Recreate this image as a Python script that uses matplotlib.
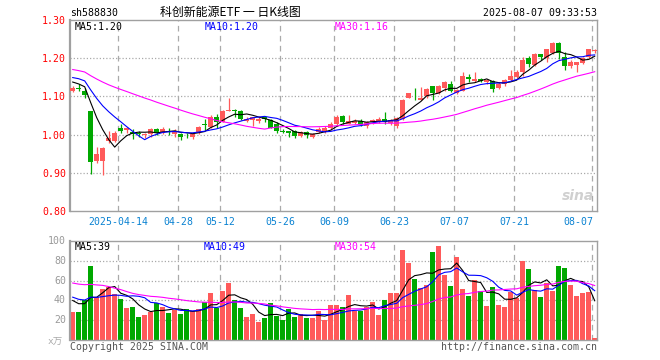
import numpy as np
import pandas as pd
import matplotlib
matplotlib.use("Agg")
import matplotlib.pyplot as plt
from matplotlib.transforms import blended_transform_factory

# ---------------- data ----------------
symbol = "sh588830"
title = "科创新能源ETF 一 日K线图"
timestamp = "2025-08-07 09:33:53"
holidays = ["2025-04-04", "2025-05-01", "2025-05-02", "2025-05-05", "2025-06-02"]
dates = [d for d in pd.bdate_range("2025-04-01", "2025-08-07").strftime("%Y-%m-%d") if d not in holidays]

opens = [1.114, 1.122, 1.114, 1.062, 0.930, 0.930, 0.983, 0.983, 1.016, 1.011,
         1.007, 1.004, 0.998, 1.001, 1.014, 1.005, 1.010, 1.001, 1.002, 0.999,
         0.995, 1.003, 1.028, 1.021, 1.045, 1.033, 1.063, 1.064, 1.062, 1.036,
         1.039, 1.036, 1.045, 1.039, 1.027, 1.009, 1.010, 1.009, 0.996, 1.008,
         0.994, 1.007, 1.010, 1.017, 1.027, 1.049, 1.029, 1.030, 1.036, 1.023,
         1.032, 1.033, 1.042, 1.030, 1.023, 1.042, 1.097, 1.096, 1.091, 1.100,
         1.126, 1.109, 1.121, 1.132, 1.109, 1.115, 1.152, 1.140, 1.146, 1.137,
         1.141, 1.122, 1.132, 1.143, 1.152, 1.163, 1.200, 1.181, 1.211, 1.200,
         1.214, 1.240, 1.203, 1.179, 1.183, 1.188, 1.203, 1.219]
highs = [1.126, 1.133, 1.122, 1.063, 0.968, 0.968, 1.009, 1.010, 1.027, 1.020,
         1.014, 1.010, 1.004, 1.018, 1.016, 1.020, 1.016, 1.014, 1.005, 1.005,
         1.003, 1.023, 1.042, 1.051, 1.054, 1.065, 1.095, 1.067, 1.064, 1.047,
         1.045, 1.047, 1.047, 1.042, 1.033, 1.014, 1.010, 1.012, 1.010, 1.010,
         1.005, 1.020, 1.023, 1.032, 1.051, 1.051, 1.051, 1.040, 1.040, 1.036,
         1.040, 1.045, 1.058, 1.042, 1.045, 1.093, 1.110, 1.121, 1.124, 1.121,
         1.128, 1.130, 1.141, 1.141, 1.119, 1.163, 1.159, 1.165, 1.148, 1.146,
         1.144, 1.137, 1.146, 1.168, 1.168, 1.203, 1.205, 1.214, 1.211, 1.225,
         1.242, 1.242, 1.216, 1.194, 1.191, 1.202, 1.225, 1.225]
lows = [1.111, 1.114, 1.096, 0.896, 0.926, 0.895, 0.979, 0.981, 1.003, 1.005,
        0.988, 0.995, 0.990, 0.995, 1.000, 1.001, 1.000, 0.995, 0.986, 0.991,
        0.988, 1.001, 1.012, 1.018, 1.018, 1.032, 1.062, 1.047, 1.038, 1.032,
        1.023, 1.030, 1.034, 1.016, 1.003, 1.003, 0.995, 0.990, 0.995, 0.992,
        0.992, 1.004, 1.005, 1.012, 1.023, 1.027, 1.027, 1.027, 1.023, 1.018,
        1.029, 1.030, 1.027, 1.025, 1.016, 1.039, 1.095, 1.090, 1.091, 1.097,
        1.090, 1.106, 1.115, 1.111, 1.106, 1.113, 1.139, 1.137, 1.137, 1.132,
        1.112, 1.119, 1.126, 1.141, 1.147, 1.154, 1.176, 1.179, 1.194, 1.189,
        1.211, 1.198, 1.168, 1.174, 1.165, 1.185, 1.201, 1.214]
closes = [1.123, 1.120, 1.103, 0.928, 0.948, 0.966, 0.991, 1.003, 1.010, 1.016,
          1.001, 1.002, 1.002, 1.014, 1.003, 1.014, 1.008, 1.010, 0.995, 0.998,
          1.001, 1.021, 1.025, 1.047, 1.032, 1.062, 1.065, 1.061, 1.040, 1.042,
          1.045, 1.042, 1.041, 1.018, 1.010, 1.008, 1.003, 0.996, 1.008, 0.998,
          1.001, 1.014, 1.016, 1.029, 1.047, 1.032, 1.036, 1.036, 1.025, 1.033,
          1.039, 1.042, 1.032, 1.039, 1.043, 1.091, 1.108, 1.095, 1.095, 1.119,
          1.109, 1.126, 1.137, 1.115, 1.118, 1.154, 1.146, 1.146, 1.141, 1.142,
          1.119, 1.132, 1.143, 1.154, 1.165, 1.196, 1.185, 1.211, 1.204, 1.223,
          1.240, 1.214, 1.179, 1.191, 1.191, 1.200, 1.223, 1.221]
# closes of the 29 sessions before the window (only feed the moving averages)
prior_closes = [1.205, 1.212, 1.218, 1.210, 1.205, 1.207, 1.190, 1.185, 1.180, 1.175,
                1.170, 1.172, 1.168, 1.175, 1.170, 1.165, 1.160, 1.155, 1.150, 1.145,
                1.150, 1.160, 1.165, 1.170, 1.160, 1.145, 1.140, 1.135, 1.145]
volumes = [28.6, 28.6, 40.4, 75.1, 43.1, 51.5, 53.9, 46.5, 41.4, 32.3,
           33.7, 23.6, 25.6, 28.3, 37.7, 33.7, 27.6, 30.3, 26.3, 31.3,
           29.0, 31.0, 38.4, 47.8, 32.3, 49.8, 57.9, 40.4, 32.7, 23.2,
           26.3, 18.5, 22.6, 37.7, 24.2, 20.2, 31.0, 23.6, 26.3, 22.2,
           22.2, 29.6, 20.2, 35.4, 35.4, 33.0, 45.5, 29.6, 29.6, 33.7,
           38.4, 25.3, 40.4, 47.8, 47.0, 90.9, 78.1, 61.3, 52.9, 55.6,
           89.2, 95.0, 65.7, 54.5, 84.2, 51.5, 44.4, 60.6, 49.5, 34.3,
           53.2, 35.4, 33.7, 48.8, 42.1, 80.1, 71.7, 50.5, 43.8, 57.9,
           49.5, 75.1, 73.1, 55.6, 44.4, 47.1, 48.8, 2.4]
prior_volumes = [62, 58, 65, 60, 65, 90, 95, 85, 92, 88,
                 60, 52, 55, 50, 52, 55, 50, 52, 58, 50,
                 50, 48, 46, 45, 44, 45, 40, 44, 42]
tick_dates = ["2025-04-14", "2025-04-28", "2025-05-12", "2025-05-26", "2025-06-09",
              "2025-06-23", "2025-07-07", "2025-07-21", "2025-08-07"]
tick_labels = ["2025-04-14", "04-28", "05-12", "05-26", "06-09", "06-23", "07-07", "07-21", "08-07"]
price_ticks = [1.30, 1.20, 1.10, 1.00, 0.90, 0.80]
vol_ticks = [100, 80, 60, 40, 20]
price_ma_labels = ["MA5:1.20", "MA10:1.20", "MA30:1.16"]
vol_ma_labels = ["MA5:39", "MA10:49", "MA30:54"]
ma_windows = [5, 10, 30]

# ---------------- style ----------------
UP = "#ff5a5a"
DOWN = "#00a800"
MA_COLORS = ["#000000", "#0000ff", "#ff00ff"]
FRAME = "#a0a0a0"
GRID = "#aaaaaa"
MONO = "DejaVu Sans Mono"
W, H = 660, 360

fig = plt.figure(figsize=(W / 100, H / 100), dpi=100)
fig.patch.set_facecolor("white")


def rect(l, t, r, b):
    return [l / W, 1 - b / H, (r - l) / W, (b - t) / H]


axp = fig.add_axes(rect(70, 20, 597, 211))
axv = fig.add_axes(rect(70, 241, 597, 340))

n = len(closes)
x = np.arange(n)
o = np.array(opens); c = np.array(closes); hi = np.array(highs); lo = np.array(lows)
v = np.array(volumes)
up = c >= o
cols = np.where(up, UP, DOWN)

# candles
body_lo = np.minimum(o, c)
body_h = np.maximum(np.abs(c - o), 0.0015)
axp.vlines(x, lo, hi, colors=cols, linewidth=0.9, zorder=2)
axp.bar(x, body_h, bottom=body_lo, width=0.78, color=cols, linewidth=0, zorder=3)

# moving averages
full_c = pd.Series(prior_closes + closes)
full_v = pd.Series(prior_volumes + volumes)
k = len(prior_closes)
for w_, col in zip(ma_windows, MA_COLORS):
    axp.plot(x, full_c.rolling(w_).mean().values[k:], color=col, linewidth=0.8, zorder=4)
    axv.plot(x, full_v.rolling(w_).mean().values[k:], color=col, linewidth=0.8, zorder=4)

# volumes
axv.bar(x, v, width=0.8, color=cols, linewidth=0, zorder=2)

tick_idx = [dates.index(d) for d in tick_dates]
for ax, ylim, hticks in ((axp, (0.80, 1.30), price_ticks[1:-1]), (axv, (0, 100), vol_ticks[1:])):
    ax.set_xlim(-0.45, n - 0.62)
    ax.set_ylim(*ylim)
    ax.set_xticks([]); ax.set_yticks([])
    for s in ax.spines.values():
        s.set_color(FRAME); s.set_linewidth(1.0)
    ax.spines["left"].set_linewidth(1.6)
    for yv in hticks:
        ax.axhline(yv, color=GRID, linewidth=0.9, linestyle=(0, (1, 1.6)), zorder=0)
    for ti in tick_idx:
        ax.axvline(ti - 0.4, color=GRID, linewidth=0.9, linestyle=(0, (4.5, 3.5)), zorder=0)

# date labels
tr = blended_transform_factory(axp.transData, axp.transAxes)
for j, (ti, lab) in enumerate(zip(tick_idx, tick_labels)):
    ha = "right" if j == len(tick_idx) - 1 else "center"
    xx = ti - 0.4 + (0.1 if ha == "right" else 0)
    axp.text(xx, -0.056, lab, transform=tr, ha=ha, va="center",
             fontsize=7.1, family=MONO, color="#0a82d2")

# y labels
for pv in price_ticks:
    yy = 20 + (1.30 - pv) / 0.5 * 191
    fig.text(66 / W, 1 - (yy + 1) / H, f"{pv:.2f}", ha="right", va="center",
             fontsize=7.1, family=MONO, color="#ff0000")
for vv in vol_ticks:
    yy = 340 - vv / 100 * 99
    fig.text(66 / W, 1 - yy / H, f"{vv}", ha="right", va="center",
             fontsize=7.1, family=MONO, color="#999999")
fig.text(63 / W, 1 - 341 / H, "x万", ha="right", va="center", fontsize=6.8,
         family=[MONO, "Noto Sans CJK SC"], color="#aaaaaa")

# MA labels
for lab, col, xp in zip(price_ma_labels, MA_COLORS, (75, 205, 335)):
    fig.text(xp / W, 1 - 27 / H, lab, ha="left", va="center", fontsize=7.1, family=MONO, color=col)
for lab, col, xp in zip(vol_ma_labels, MA_COLORS, (75, 204, 335)):
    fig.text(xp / W, 1 - 246.5 / H, lab, ha="left", va="center", fontsize=7.1, family=MONO, color=col)

# header
fig.text(70 / W, 1 - 13 / H, symbol, ha="left", va="center", fontsize=7.1, family=MONO, color="#000000")
fig.text(230 / W, 1 - 12.5 / H, title, ha="center", va="center", fontsize=8.6,
         family=["Noto Sans CJK SC", "DejaVu Sans"], color="#000000")
fig.text(597 / W, 1 - 13 / H, timestamp, ha="right", va="center", fontsize=7.1, family=MONO, color="#000000")

# footer
fig.text(70 / W, 1 - 347 / H, "Copyright 2025 SINA.COM", ha="left", va="center",
         fontsize=7.1, family=MONO, color="#555555")
fig.text(597 / W, 1 - 347 / H, "http://finance.sina.com.cn", ha="right", va="center",
         fontsize=7.1, family=MONO, color="#555555")

# watermark
fig.text(594 / W, 1 - 196 / H, "sina", ha="right", va="center", fontsize=10,
         family="DejaVu Sans", style="italic", weight="bold", color="#d0d0d0")

fig.savefig("out.png", dpi=100, facecolor="white")
